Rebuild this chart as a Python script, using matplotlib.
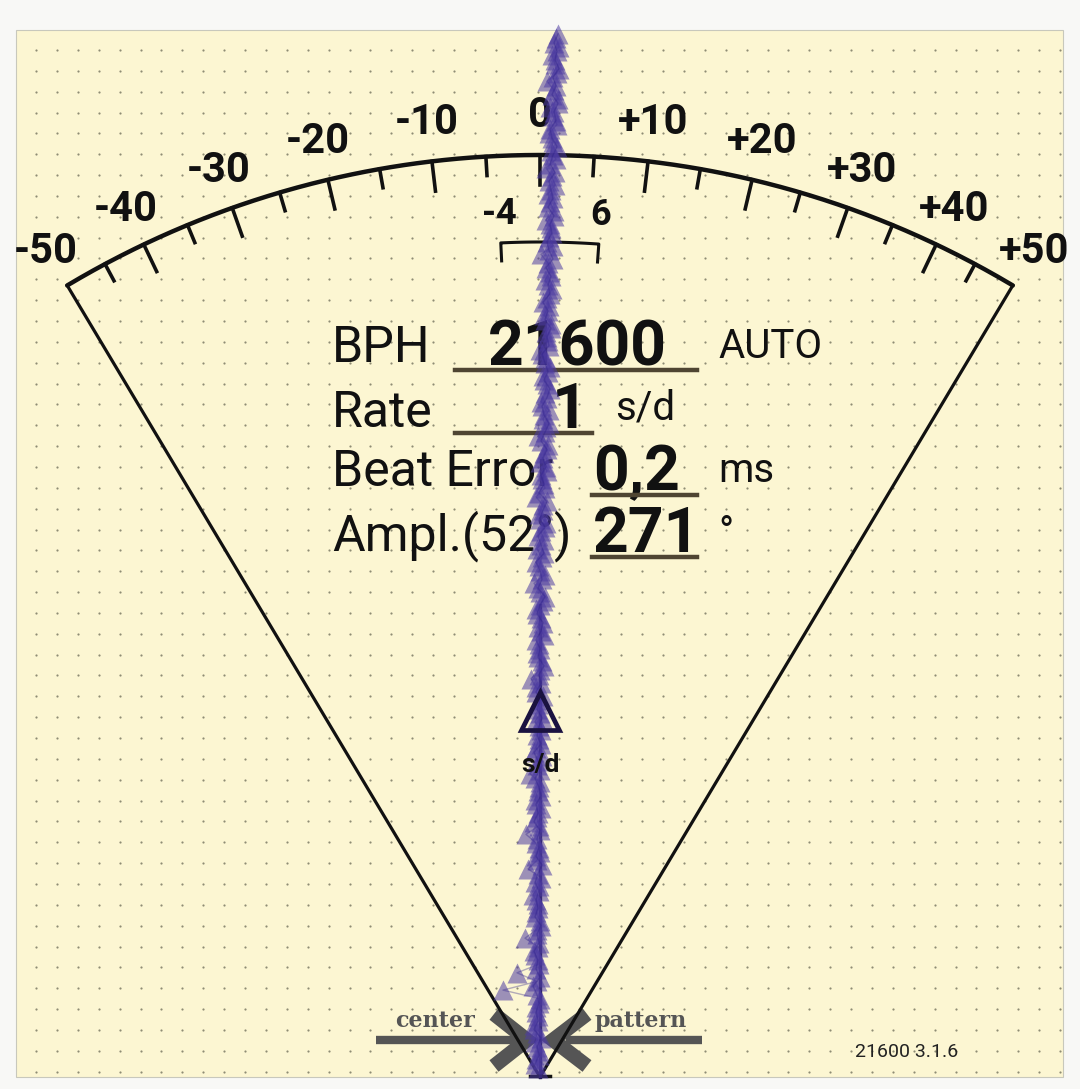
import matplotlib.pyplot as plt
import numpy as np

# ---------------- values ----------------
# dial scale: s/d value -> needle angle (deg), read from the tick marks
scale_vals = [0, 10, 20, 30, 40, 50]
scale_deg = [0, 6.73, 13.3, 19.5, 25.45, 30.85]
major_ticks = [-50, -40, -30, -20, -10, 0, 10, 20, 30, 40, 50]
minor_ticks = [-45, -35, -25, -15, -5, 5, 15, 25, 35, 45]
tick_labels = ['-50', '-40', '-30', '-20', '-10', '0', '+10', '+20', '+30', '+40', '+50']
tol_low, tol_high = -4, 6

bph = '21600'
rate = '1'
beat_error = '0,2'
amplitude = '271'
lift_angle = 52
version = '21600 3.1.6'

# beat trace, bottom (oldest) to top: screen x of each "tick" and "tock" mark
tick_x = [538, 536, 539, 535, 537, 534, 538, 536, 540, 503,
          537, 517, 539, 535, 538, 525, 537, 540, 536, 538,
          533, 539, 541, 528, 537, 540, 536, 526, 539, 537,
          541, 535, 538, 540, 530, 537, 542, 536, 539, 541,
          535, 540, 538, 543, 536, 531, 540, 542, 537, 539,
          544, 538, 541, 536, 543, 540, 534, 545, 539, 542,
          537, 544, 541, 546, 539, 543, 536, 545, 542, 547,
          540, 544, 548, 538, 546, 543, 549, 541, 545, 547,
          543, 550, 545, 540, 548, 546, 551, 544, 549, 547,
          552, 545, 550, 548, 541, 553, 549, 551, 546, 554,
          550, 548, 555, 552, 546, 556, 551, 553, 549, 557,
          553, 550, 558, 554, 547, 557, 555, 552, 559, 556]
tock_x = [535, 539, 537, 541, 534, 538, 536, 539, 537, 533,
          540, 536, 538, 534, 539, 537, 541, 535, 538, 536,
          539, 535, 538, 542, 536, 539, 537, 540, 534, 538,
          536, 541, 539, 535, 540, 538, 534, 541, 537, 539,
          542, 537, 540, 536, 541, 539, 544, 538, 540, 536,
          541, 543, 537, 540, 545, 538, 542, 540, 536, 544,
          541, 538, 545, 540, 543, 547, 539, 544, 541, 546,
          543, 547, 541, 545, 549, 544, 542, 547, 550, 544,
          548, 545, 542, 549, 547, 551, 545, 548, 543, 550,
          548, 551, 546, 553, 549, 547, 552, 550, 554, 548,
          553, 551, 549, 555, 550, 553, 557, 552, 550, 556,
          554, 558, 552, 556, 553, 559, 555, 557, 554, 558]

# ---------------- layout ----------------
W, H = 1080, 1089
cx, cy = 540, 1077          # fan apex
R = 922                     # dial arc radius
panel = (16, 30, 1063, 1077)
cream = '#FCF6D2'
ink = '#111111'
brown = '#4F4532'
purple = '#4D3CA2'

def to_xy(v, r):
    v = np.asarray(v, dtype=float)
    th = np.radians(np.sign(v) * np.interp(np.abs(v), scale_vals, scale_deg))
    return cx + r * np.sin(th), cy - r * np.cos(th)

fig = plt.figure(figsize=(W / 100, H / 100), dpi=100, facecolor='#F8F8F6')
ax = fig.add_axes([0, 0, 1, 1])
ax.set_xlim(0, W)
ax.set_ylim(H, 0)
ax.axis('off')

# panel + dotted grid
x0, y0, x1, y1 = panel
ax.add_patch(plt.Rectangle((x0, y0), x1 - x0, y1 - y0, facecolor=cream,
                           edgecolor='#C8C8BC', lw=0.8, zorder=0))
gx = np.arange(36, x1 - 2, 20.9)
gy = np.arange(50, y1 - 2, 20.85)
GX, GY = np.meshgrid(gx, gy)
ax.scatter(GX.ravel(), GY.ravel(), s=2.5, color='#8E8C74', lw=0, zorder=1)

# center / pattern logo
logo = '#555555'
ax.plot([376, 515], [1040, 1040], color=logo, lw=6, solid_capstyle='butt', zorder=2)
ax.plot([566, 702], [1040, 1040], color=logo, lw=6, solid_capstyle='butt', zorder=2)
ax.plot([494, 527, 494], [1014, 1040, 1066], color=logo, lw=10.5,
        solid_joinstyle='miter', solid_capstyle='butt', zorder=2)
ax.plot([587, 553, 587], [1014, 1040, 1066], color=logo, lw=10.5,
        solid_joinstyle='miter', solid_capstyle='butt', zorder=2)
ax.text(435, 1027, 'center', ha='center', va='baseline', fontsize=16,
        family='DejaVu Serif', fontweight='bold', color=logo, zorder=2)
ax.text(641, 1027, 'pattern', ha='center', va='baseline', fontsize=16,
        family='DejaVu Serif', fontweight='bold', color=logo, zorder=2)

# fan outline and dial arc
for side in (-50, 50):
    ex, ey = to_xy(side, R)
    ax.plot([cx, ex], [cy, ey], color=ink, lw=2.3, zorder=3)
arc_v = np.linspace(-50, 50, 400)
ax.plot(*to_xy(arc_v, R), color=ink, lw=3.2, solid_capstyle='round', zorder=3)
ax.plot([cx - 10, cx + 10], [cy - 1, cy - 1], color=ink, lw=2.5, zorder=3)

for v in major_ticks[1:-1]:
    xa, ya = to_xy([v, v], [R, R - 30])
    ax.plot(xa, ya, color=ink, lw=2.6, zorder=3)
for v in minor_ticks:
    xa, ya = to_xy([v, v], [R, R - 19])
    ax.plot(xa, ya, color=ink, lw=2.6, zorder=3)

for v, lab in zip(major_ticks, tick_labels):
    tx, ty = to_xy(v, 964)
    ax.text(tx, ty + 14, lab, ha='center', va='baseline', fontsize=30,
            fontweight='bold', family='Roboto', color=ink, zorder=3)

# tolerance bracket
for v in (tol_low, tol_high):
    tx, ty = to_xy(v, 866)
    ax.text(tx, ty + 12, f'{v}', ha='center', va='baseline', fontsize=26,
            fontweight='bold', family='Roboto', color=ink, zorder=3)
br_v = np.linspace(tol_low, tol_high, 60)
bx, by = to_xy(br_v, 835)
lx0, ly0 = to_xy([tol_low, tol_low], [817, 835])
lx1, ly1 = to_xy([tol_high, tol_high], [835, 817])
ax.plot(np.r_[lx0, bx, lx1], np.r_[ly0, by, ly1], color=ink, lw=2.2, zorder=3)

# readout block
lab_kw = dict(va='baseline', fontsize=36, family='Roboto', color=ink, zorder=4)
val_kw = dict(va='baseline', fontsize=45, family='Roboto', fontweight='bold',
              color=ink, zorder=4)
unit_kw = dict(va='baseline', fontsize=29, family='Roboto', color=ink, zorder=4)

ax.text(332, 362, 'BPH', **lab_kw)
ax.text(488, 365, bph, **val_kw)
ax.text(718, 358, 'AUTO', **unit_kw)
ax.plot([455, 697], [370, 370], color=brown, lw=3.2, zorder=4)

ax.text(332, 427, 'Rate', **lab_kw)
ax.text(588, 428, rate, ha='right', **val_kw)
ax.text(615, 419, 's/d', **unit_kw)
ax.plot([455, 592], [433, 433], color=brown, lw=3.2, zorder=4)

ax.text(332, 486, 'Beat Error', **lab_kw)
ax.text(593, 490, beat_error, **val_kw)
ax.text(718, 482, 'ms', **unit_kw)
ax.plot([592, 697], [495, 495], color=brown, lw=3.2, zorder=4)

ax.text(332, 550, f'Ampl.({lift_angle}°)', **lab_kw)
ax.text(593, 552, amplitude, **val_kw)
ax.text(718, 545, '°', **unit_kw)
ax.plot([592, 697], [557, 557], color=brown, lw=3.2, zorder=4)

# rate needle and marker
ax.plot([cx, cx], [cy, 605], color='#1A1240', lw=2.4, zorder=5)
ax.plot([cx], [711], marker='^', ms=27, mfc='none', mec='#1A1240', mew=3.4, zorder=7)
ax.text(cx, 772, 's/d', ha='center', va='baseline', fontsize=19,
        fontweight='bold', family='Roboto', color=ink, zorder=7)

# beat trace
tick_y = np.linspace(1068, 38, len(tick_x))
tock_y = np.linspace(1064, 34, len(tock_x))
for xs, ys in ((tick_x, tick_y), (tock_x, tock_y)):
    ax.plot(xs, ys, ls='none', marker='^', ms=14, color=purple,
            mec='none', alpha=0.55, zorder=6)
    ax.plot(xs, ys, color='#2A1D86', lw=1.0, alpha=0.35, zorder=6)

ax.text(855, 1057, version, ha='left', va='baseline', fontsize=14,
        family='Roboto', color='#222222', zorder=4)

fig.savefig('out.png', dpi=100, facecolor=fig.get_facecolor())
